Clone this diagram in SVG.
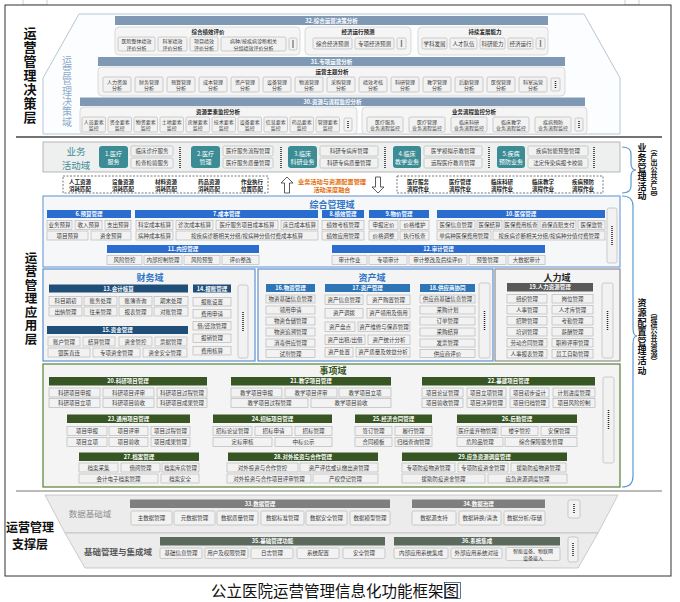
<svg xmlns="http://www.w3.org/2000/svg" width="680" height="602" viewBox="0 0 680 602">
<style>
text{font-family:"Noto Sans CJK SC","Noto Sans",sans-serif}
.t{font-size:5.5px;fill:#3a3a3a;text-anchor:middle;dominant-baseline:central}
.t2{font-size:5px;fill:#3a3a3a;text-anchor:middle;dominant-baseline:central}
.ht{font-size:5.5px;fill:#fff;font-weight:bold;text-anchor:middle;dominant-baseline:central}
.gt{font-size:5.5px;fill:#222;font-weight:bold;text-anchor:middle;dominant-baseline:central}
.lt{font-size:6px;fill:#fff;text-anchor:middle;dominant-baseline:central}
.bt{font-size:5.5px;fill:#222;font-weight:bold;text-anchor:middle;dominant-baseline:central}
.b{fill:#f2f2f2;stroke:#b0b0b0;stroke-width:.6}
.g{fill:#f5f5f5;stroke:#cdcdcd;stroke-width:.7}
.sd{fill:#f2f2f2;stroke:#b0b0b0;stroke-width:.6}
.dots{stroke:#222;stroke-width:1.5;stroke-dasharray:1 1;fill:none}
.dh{fill:#7f99b5}.hb{fill:#2a6dcf}.hn{fill:#1f4e79}.hm{fill:#2e75b6}.hg{fill:#375623}.hk{fill:#595959}.hd{fill:#7f7f7f}.hs{fill:#5b6a5d}.tl{fill:#3b8c94}
.vl{font-weight:bold;fill:#111;writing-mode:vertical-rl}
.br{fill:none;stroke:#5b9bd5;stroke-width:1.2}
.dt{font-size:9px;font-weight:bold;fill:#2f75c8;text-anchor:middle;dominant-baseline:central}
</style>
<rect x="0" y="0" width="680" height="602" fill="#fff"/>
<rect x="23" y="-1" width="24" height="6" fill="none" stroke="#bbb" stroke-width=".7"/>
<rect x="625" y="-1" width="14" height="6" fill="none" stroke="#bbb" stroke-width=".7"/>
<rect x="5" y="5" width="666" height="571" fill="#fff" stroke="#333" stroke-width="1"/>
<line x1="16" y1="137" x2="662" y2="137" stroke="#444" stroke-width="1.3"/>
<line x1="16" y1="491" x2="662" y2="491" stroke="#777" stroke-width="1"/>

<!-- layer labels -->
<g id="layer-labels">
<text class="vl" x="30" y="26.5" font-size="13" letter-spacing="1">运营管理决策层</text>
<text class="vl" x="31" y="251.5" font-size="12.5" letter-spacing="1">运营管理应用层</text>
<text x="30" y="526.5" font-size="12" font-weight="bold" fill="#111" text-anchor="middle" dominant-baseline="central">运营管理</text>
<text x="30" y="543" font-size="12" font-weight="bold" fill="#111" text-anchor="middle" dominant-baseline="central">支撑层</text>
</g>

<!-- decision layer -->
<g id="decision-domain">
<polygon points="79,14 584,14 620,78 620,134 43,134 43,78" fill="#fcfdfe" stroke="#b5c6d8" stroke-width="1"/>
<text x="67" y="55" font-size="10" fill="#8eaacb" letter-spacing=".3" style="writing-mode:vertical-rl">运营管理决策域</text>
</g>
<g id="n32">
<rect class="dh" x="115" y="16" width="433" height="9"/>
<text class="ht" x="331.5" y="20.5">32.综合运营决策分析</text>
<rect class="g" x="115" y="27" width="185" height="28" rx="4"/>
<text class="gt" x="208" y="32">综合绩效评价</text>
<rect class="b" x="118" y="37" width="37" height="14" rx="1.5"/><text class="t2" x="136.5" y="40.8">医院整体绩效</text><text class="t2" x="136.5" y="47.2">评价分析</text>
<rect class="b" x="158" y="37" width="29" height="14" rx="1.5"/><text class="t2" x="172.5" y="40.8">科室绩效</text><text class="t2" x="172.5" y="47.2">评价分析</text>
<rect class="b" x="190" y="37" width="28" height="14" rx="1.5"/><text class="t2" x="204" y="40.8">项目绩效</text><text class="t2" x="204" y="47.2">评价分析</text>
<rect class="b" x="221" y="37" width="65" height="14" rx="1.5"/><text class="t2" x="253.5" y="40.8">病种/按疾病诊断相关</text><text class="t2" x="253.5" y="47.2">分组绩效评价分析</text>
<rect class="sd" x="289" y="38" width="8" height="12" rx="1.5"/><line class="dots" x1="293" y1="40.5" x2="293" y2="47.5"/>
<rect class="g" x="305" y="27" width="106" height="28" rx="4"/>
<text class="gt" x="358" y="32">经济运行预测</text>
<rect class="b" x="313" y="38" width="39" height="11" rx="1.5"/><text class="t" x="332.5" y="43.5">综合经济预测</text>
<rect class="b" x="355" y="38" width="39" height="11" rx="1.5"/><text class="t" x="374.5" y="43.5">专项经济预测</text>
<rect class="sd" x="397" y="38" width="9" height="11" rx="1.5"/><line class="dots" x1="401.5" y1="40.5" x2="401.5" y2="47"/>
<rect class="g" x="418" y="27" width="130" height="28" rx="4"/>
<text class="gt" x="485" y="32">持续发展能力</text>
<rect class="b" x="422" y="38" width="25" height="11" rx="1.5"/><text class="t" x="434.5" y="43.5">学科发展</text>
<rect class="b" x="450" y="38" width="27" height="11" rx="1.5"/><text class="t" x="463.5" y="43.5">人才队伍</text>
<rect class="b" x="480" y="38" width="25" height="11" rx="1.5"/><text class="t" x="492.5" y="43.5">科研能力</text>
<rect class="b" x="508" y="38" width="25" height="11" rx="1.5"/><text class="t" x="520.5" y="43.5">经济运行</text>
<rect class="sd" x="536" y="38" width="9" height="11" rx="1.5"/><line class="dots" x1="540.5" y1="40.5" x2="540.5" y2="47"/>
</g>
<g id="n31">
<rect class="dh" x="98" y="57" width="467" height="9"/>
<text class="ht" x="331.5" y="61.5">31.专项运营分析</text>
<rect class="g" x="98" y="67" width="467" height="29" rx="4"/>
<text class="gt" x="332" y="72">运营主题分析</text>
<rect class="b" x="103" y="77" width="28" height="15" rx="1.5"/><text class="t2" x="117" y="81.3">人力资源</text><text class="t2" x="117" y="87.8">分析</text>
<rect class="b" x="135" y="77" width="28" height="15" rx="1.5"/><text class="t2" x="149" y="81.3">财务管理</text><text class="t2" x="149" y="87.8">分析</text>
<rect class="b" x="167" y="77" width="28" height="15" rx="1.5"/><text class="t2" x="181" y="81.3">预算管理</text><text class="t2" x="181" y="87.8">分析</text>
<rect class="b" x="199" y="77" width="28" height="15" rx="1.5"/><text class="t2" x="213" y="81.3">成本管理</text><text class="t2" x="213" y="87.8">分析</text>
<rect class="b" x="231" y="77" width="28" height="15" rx="1.5"/><text class="t2" x="245" y="81.3">资产管理</text><text class="t2" x="245" y="87.8">分析</text>
<rect class="b" x="263" y="77" width="28" height="15" rx="1.5"/><text class="t2" x="277" y="81.3">设备管理</text><text class="t2" x="277" y="87.8">分析</text>
<rect class="b" x="295" y="77" width="28" height="15" rx="1.5"/><text class="t2" x="309" y="81.3">物流管理</text><text class="t2" x="309" y="87.8">分析</text>
<rect class="b" x="327" y="77" width="28" height="15" rx="1.5"/><text class="t2" x="341" y="81.3">采购管理</text><text class="t2" x="341" y="87.8">分析</text>
<rect class="b" x="359" y="77" width="28" height="15" rx="1.5"/><text class="t2" x="373" y="81.3">绩效考核</text><text class="t2" x="373" y="87.8">分析</text>
<rect class="b" x="391" y="77" width="28" height="15" rx="1.5"/><text class="t2" x="405" y="81.3">科研管理</text><text class="t2" x="405" y="87.8">分析</text>
<rect class="b" x="423" y="77" width="28" height="15" rx="1.5"/><text class="t2" x="437" y="81.3">教学管理</text><text class="t2" x="437" y="87.8">分析</text>
<rect class="b" x="455" y="77" width="28" height="15" rx="1.5"/><text class="t2" x="469" y="81.3">后勤管理</text><text class="t2" x="469" y="87.8">分析</text>
<rect class="b" x="487" y="77" width="28" height="15" rx="1.5"/><text class="t2" x="501" y="81.3">医保管理</text><text class="t2" x="501" y="87.8">分析</text>
<rect class="b" x="519" y="77" width="28" height="15" rx="1.5"/><text class="t2" x="533" y="81.3">科室运营</text><text class="t2" x="533" y="87.8">分析</text>
<rect class="sd" x="551" y="78" width="9" height="13" rx="1.5"/><line class="dots" x1="555.5" y1="81" x2="555.5" y2="88"/>
</g>
<g id="n30">
<rect class="dh" x="80" y="97.5" width="505" height="8.5"/>
<text class="ht" x="332.5" y="101.75">30.资源与流程监控分析</text>
<rect class="g" x="80" y="107" width="277" height="27" rx="4"/>
<text class="gt" x="218" y="112">资源要素监控分析</text>
<rect class="b" x="82" y="117" width="23.5" height="15" rx="1.5"/><text class="t2" x="93.75" y="121.3">人员要素</text><text class="t2" x="93.75" y="127.8">监控</text>
<rect class="b" x="108" y="117" width="23.5" height="15" rx="1.5"/><text class="t2" x="119.75" y="121.3">资金要素</text><text class="t2" x="119.75" y="127.8">监控</text>
<rect class="b" x="134" y="117" width="23.5" height="15" rx="1.5"/><text class="t2" x="145.75" y="121.3">物资要素</text><text class="t2" x="145.75" y="127.8">监控</text>
<rect class="b" x="160" y="117" width="23.5" height="15" rx="1.5"/><text class="t2" x="171.75" y="121.3">土地要素</text><text class="t2" x="171.75" y="127.8">监控</text>
<rect class="b" x="186" y="117" width="23.5" height="15" rx="1.5"/><text class="t2" x="197.75" y="121.3">房屋要素</text><text class="t2" x="197.75" y="127.8">监控</text>
<rect class="b" x="212" y="117" width="23.5" height="15" rx="1.5"/><text class="t2" x="223.75" y="121.3">技术要素</text><text class="t2" x="223.75" y="127.8">监控</text>
<rect class="b" x="238" y="117" width="23.5" height="15" rx="1.5"/><text class="t2" x="249.75" y="121.3">设备要素</text><text class="t2" x="249.75" y="127.8">监控</text>
<rect class="b" x="264" y="117" width="23.5" height="15" rx="1.5"/><text class="t2" x="275.75" y="121.3">信息要素</text><text class="t2" x="275.75" y="127.8">监控</text>
<rect class="b" x="290" y="117" width="23.5" height="15" rx="1.5"/><text class="t2" x="301.75" y="121.3">药品要素</text><text class="t2" x="301.75" y="127.8">监控</text>
<rect class="b" x="316" y="117" width="23.5" height="15" rx="1.5"/><text class="t2" x="327.75" y="121.3">管理要素</text><text class="t2" x="327.75" y="127.8">监控</text>
<rect class="sd" x="344" y="118" width="8" height="13" rx="1.5"/><line class="dots" x1="348" y1="121" x2="348" y2="128"/>
<rect class="g" x="362" y="107" width="225" height="27" rx="4"/>
<text class="gt" x="474" y="112">业务流程监控分析</text>
<rect class="b" x="367" y="117" width="36" height="15" rx="1.5"/><text class="t2" x="385" y="121.3">医疗服务</text><text class="t2" x="385" y="127.8">业务流程监控</text>
<rect class="b" x="409" y="117" width="36" height="15" rx="1.5"/><text class="t2" x="427" y="121.3">医疗管理</text><text class="t2" x="427" y="127.8">业务流程监控</text>
<rect class="b" x="451" y="117" width="36" height="15" rx="1.5"/><text class="t2" x="469" y="121.3">临床科研</text><text class="t2" x="469" y="127.8">业务流程监控</text>
<rect class="b" x="493" y="117" width="36" height="15" rx="1.5"/><text class="t2" x="511" y="121.3">临床教学</text><text class="t2" x="511" y="127.8">业务流程监控</text>
<rect class="b" x="535" y="117" width="36" height="15" rx="1.5"/><text class="t2" x="553" y="121.3">疾病预防</text><text class="t2" x="553" y="127.8">业务流程监控</text>
<rect class="sd" x="575" y="118" width="8" height="13" rx="1.5"/><line class="dots" x1="579" y1="121" x2="579" y2="128"/>
</g>

<!-- business activity domain -->
<g id="business">
<rect x="43" y="142" width="577" height="30" fill="#eef0f0" stroke="#a6a6a6" stroke-width=".8"/>
<text x="76" y="151.3" font-size="9.5" fill="#3b8c94" text-anchor="middle" dominant-baseline="central">业务</text>
<text x="76" y="164.5" font-size="9.5" fill="#3b8c94" text-anchor="middle" dominant-baseline="central">活动域</text>
<rect class="tl" x="99" y="146" width="29" height="22" rx="3"/><text class="lt" x="113.5" y="153">1.医疗</text><text class="lt" x="113.5" y="161">服务</text>
<rect class="b" x="131" y="146" width="42" height="10" rx="1.5"/><text class="t" x="152" y="151">临床诊疗服务</text>
<rect class="b" x="131" y="158" width="42" height="10" rx="1.5"/><text class="t" x="152" y="163">检查检验服务</text>
<line class="dots" x1="180" y1="147" x2="180" y2="168"/>
<rect class="tl" x="191" y="146" width="29" height="22" rx="3"/><text class="lt" x="205.5" y="153">2.医疗</text><text class="lt" x="205.5" y="161">管理</text>
<rect class="b" x="223" y="146" width="50" height="10" rx="1.5"/><text class="t" x="248" y="151">医疗服务流程管理</text>
<rect class="b" x="223" y="158" width="50" height="10" rx="1.5"/><text class="t" x="248" y="163">医疗服务质量管理</text>
<line class="dots" x1="281" y1="147" x2="281" y2="168"/>
<rect class="tl" x="288" y="146" width="29" height="22" rx="3"/><text class="lt" x="302.5" y="153">3.临床</text><text class="lt" x="302.5" y="161">科研业务</text>
<rect class="b" x="320" y="146" width="58" height="10" rx="1.5"/><text class="t" x="349" y="151">科研专病库管理</text>
<rect class="b" x="320" y="158" width="58" height="10" rx="1.5"/><text class="t" x="349" y="163">科研专病质量管理</text>
<line class="dots" x1="385" y1="147" x2="385" y2="168"/>
<rect class="tl" x="393" y="146" width="28" height="22" rx="3"/><text class="lt" x="407" y="153">4.临床</text><text class="lt" x="407" y="161">教学业务</text>
<rect class="b" x="424" y="146" width="58" height="10" rx="1.5"/><text class="t" x="453" y="151">医学模拟示教管理</text>
<rect class="b" x="424" y="158" width="58" height="10" rx="1.5"/><text class="t" x="453" y="163">远程医疗教育管理</text>
<line class="dots" x1="489" y1="147" x2="489" y2="168"/>
<rect class="tl" x="497" y="146" width="28" height="22" rx="3"/><text class="lt" x="511" y="153">5.疾病</text><text class="lt" x="511" y="161">预防业务</text>
<rect class="b" x="528" y="146" width="60" height="10" rx="1.5"/><text class="t" x="558" y="151">疾病智能预警管理</text>
<rect class="b" x="528" y="158" width="60" height="10" rx="1.5"/><text class="t" x="558" y="163">法定传染病报卡校验</text>
<line class="dots" x1="594" y1="147" x2="594" y2="168"/>
</g>

<g id="fusion">
<rect x="63" y="176" width="205" height="17" fill="#fff" stroke="#555" stroke-width=".8" stroke-dasharray="2 1.5"/>
<text class="bt" x="80" y="181.5">人工资源</text><text class="bt" x="80" y="188.5">消耗匹配</text>
<text class="bt" x="123" y="181.5">设备资源</text><text class="bt" x="123" y="188.5">消耗匹配</text>
<text class="bt" x="166" y="181.5">材料资源</text><text class="bt" x="166" y="188.5">消耗匹配</text>
<text class="bt" x="209" y="181.5">药品资源</text><text class="bt" x="209" y="188.5">消耗匹配</text>
<text class="bt" x="252" y="181.5">作业执行</text><text class="bt" x="252" y="188.5">位置匹配</text>
<polygon points="287,177 293,183 289.5,183 289.5,193 284.5,193 284.5,183 281,183" fill="#fff" stroke="#333" stroke-width=".8"/>
<text x="332" y="181.5" font-size="6.2" font-weight="bold" fill="#e46c0a" text-anchor="middle" dominant-baseline="central">业务活动与资源配置管理</text>
<text x="332" y="189" font-size="6.2" font-weight="bold" fill="#e46c0a" text-anchor="middle" dominant-baseline="central">活动深度融合</text>
<polygon points="378,193 384,187 380.5,187 380.5,177 375.5,177 375.5,187 372,187" fill="#fff" stroke="#333" stroke-width=".8"/>
<rect x="397" y="176" width="206" height="17" fill="#fff" stroke="#555" stroke-width=".8" stroke-dasharray="2 1.5"/>
<text class="bt" x="418" y="181.5">医疗服务</text><text class="bt" x="418" y="188.5">流程作业</text>
<text class="bt" x="460" y="181.5">医疗管理</text><text class="bt" x="460" y="188.5">流程作业</text>
<text class="bt" x="502" y="181.5">临床科研</text><text class="bt" x="502" y="188.5">流程作业</text>
<text class="bt" x="543" y="181.5">临床教学</text><text class="bt" x="543" y="188.5">流程作业</text>
<text class="bt" x="583" y="181.5">疾病预防</text><text class="bt" x="583" y="188.5">流程作业</text>
</g>

<g id="connectors">
<path class="br" d="M622,147 Q631,147 631,154 L631,163 Q631,170 636,170 Q631,170 631,177 L631,186 Q631,193 622,193"/>
<path class="br" d="M622,196 Q633,196 633,206 L633,328 Q633,336 637,336 Q633,336 633,344 L633,476 Q633,487 622,487"/>
</g>
<g id="side-labels">
<text class="vl" x="642" y="143.5" font-size="9" letter-spacing=".6">业务管理活动</text>
<text class="vl" x="654" y="145" font-size="7">（产出公共产品）</text>
<text class="vl" x="642" y="298.5" font-size="9" letter-spacing=".6">资源配置管理活动</text>
<text class="vl" x="654" y="309" font-size="7">（提供公共资源）</text>
</g>

<!-- comprehensive management domain -->
<g id="integrated">
<rect x="43" y="196" width="577" height="71" fill="#f6f7f9" stroke="#5b8fd0" stroke-width="1"/>
<text class="dt" x="332" y="204" font-size="9.5">综合管理域</text>
</g>
<g id="n6">
<rect class="hb" x="47" y="210" width="84" height="8"/><text class="ht" x="89" y="214">6.预算管理</text>
<rect class="b" x="47" y="220.5" width="25" height="9"/><text class="t" x="59.5" y="225">业务预算</text>
<rect class="b" x="75" y="220.5" width="27" height="9"/><text class="t" x="88.5" y="225">收入预算</text>
<rect class="b" x="105" y="220.5" width="26" height="9"/><text class="t" x="118" y="225">支出预算</text>
<rect class="b" x="47" y="231" width="41" height="9"/><text class="t" x="67.5" y="235.5">项目预算</text>
<rect class="b" x="91" y="231" width="40" height="9"/><text class="t" x="111" y="235.5">资金预算</text>
</g>
<g id="n7">
<rect class="hb" x="135" y="210" width="183" height="8"/><text class="ht" x="226.5" y="214">7.成本管理</text>
<rect class="b" x="136" y="220.5" width="37" height="9"/><text class="t" x="154.5" y="225">科室成本核算</text>
<rect class="b" x="176" y="220.5" width="37" height="9"/><text class="t" x="194.5" y="225">诊次成本核算</text>
<rect class="b" x="216" y="220.5" width="62" height="9"/><text class="t" x="247" y="225">医疗服务项目成本核算</text>
<rect class="b" x="281" y="220.5" width="37" height="9"/><text class="t" x="299.5" y="225">床日成本核算</text>
<rect class="b" x="136" y="231" width="37" height="9"/><text class="t" x="154.5" y="235.5">病种成本核算</text>
<rect class="b" x="176" y="231" width="142" height="9"/><text class="t" x="247" y="235.5">按疾病诊断相关分组/按病种分值付费成本核算</text>
</g>
<g id="n8">
<rect class="hb" x="322" y="210" width="42" height="8"/><text class="ht" x="343" y="214">8.绩效管理</text>
<rect class="b" x="322" y="220.5" width="42" height="9"/><text class="t" x="343" y="225">绩效考核管理</text>
<rect class="b" x="322" y="231" width="42" height="9"/><text class="t" x="343" y="235.5">绩效应用管理</text>
</g>
<g id="n9">
<rect class="hb" x="369" y="210" width="60" height="8"/><text class="ht" x="399" y="214">9.物价管理</text>
<rect class="b" x="369" y="220.5" width="29" height="9"/><text class="t" x="383.5" y="225">申报定价</text>
<rect class="b" x="400" y="220.5" width="29" height="9"/><text class="t" x="414.5" y="225">价格维护</text>
<rect class="b" x="369" y="231" width="29" height="9"/><text class="t" x="383.5" y="235.5">价格调整</text>
<rect class="b" x="400" y="231" width="29" height="9"/><text class="t" x="414.5" y="235.5">执行核查</text>
</g>
<g id="n10">
<rect class="hb" x="437" y="210" width="168" height="8"/><text class="ht" x="521" y="214">10.医保管理</text>
<rect class="b" x="437" y="220.5" width="38" height="9"/><text class="t" x="456" y="225">医保信息管理</text>
<rect class="b" x="477" y="220.5" width="25" height="9"/><text class="t" x="489.5" y="225">医保结算</text>
<rect class="b" x="504" y="220.5" width="34" height="9"/><text class="t" x="521" y="225">医保费用核查</text>
<rect class="b" x="540" y="220.5" width="36" height="9"/><text class="t" x="558" y="225">商保直赔支付</text>
<rect class="b" x="578" y="220.5" width="27" height="9"/><text class="t" x="591.5" y="225">医保监管</text>
<rect class="b" x="437" y="231" width="54" height="9"/><text class="t" x="464" y="235.5">单病种医保费用管理</text>
<rect class="b" x="493" y="231" width="112" height="9"/><text class="t" x="549" y="235.5">按疾病诊断相关分组/按病种分值付费管理</text>
<rect class="sd" x="607" y="208" width="10" height="55" rx="2"/><line class="dots" x1="612" y1="226" x2="612" y2="245"/>
</g>
<g id="n11">
<rect class="hb" x="107" y="245" width="152" height="8"/><text class="ht" x="183" y="249">11.内控管理</text>
<rect class="b" x="107" y="255.5" width="35" height="9"/><text class="t" x="124.5" y="260">风险管控</text>
<rect class="b" x="144" y="255.5" width="38" height="9"/><text class="t" x="163" y="260">内部控制管理</text>
<rect class="b" x="184" y="255.5" width="36" height="9"/><text class="t" x="202" y="260">风险预警</text>
<rect class="b" x="222" y="255.5" width="37" height="9"/><text class="t" x="240.5" y="260">评价整改</text>
</g>
<g id="n12">
<rect class="hb" x="332" y="245" width="213" height="8"/><text class="ht" x="438.5" y="249">12.审计管理</text>
<rect class="b" x="332" y="255.5" width="35" height="9"/><text class="t" x="349.5" y="260">审计作业</text>
<rect class="b" x="369" y="255.5" width="38" height="9"/><text class="t" x="388" y="260">专项审计</text>
<rect class="b" x="409" y="255.5" width="58" height="9"/><text class="t" x="438" y="260">审计整改及后续评价</text>
<rect class="b" x="469" y="255.5" width="37" height="9"/><text class="t" x="487.5" y="260">预警管理</text>
<rect class="b" x="508" y="255.5" width="37" height="9"/><text class="t" x="526.5" y="260">大数据审计</text>
</g>

<!-- finance domain -->
<g id="finance">
<rect x="43" y="269" width="212" height="92" fill="#f4f4f4" stroke="#5b8fd0" stroke-width="1.2"/>
<text class="dt" x="150" y="277">财务域</text>
<rect class="hn" x="49" y="284.5" width="139" height="8"/><text class="ht" x="118.5" y="288.5">13.会计核算</text>
<rect class="b" x="49" y="296.5" width="33" height="9"/><text class="t" x="65.5" y="301">科目期初</text>
<rect class="b" x="84" y="296.5" width="33" height="9"/><text class="t" x="100.5" y="301">账务处理</text>
<rect class="b" x="119" y="296.5" width="33" height="9"/><text class="t" x="135.5" y="301">账簿查询</text>
<rect class="b" x="154" y="296.5" width="34" height="9"/><text class="t" x="171" y="301">期末处理</text>
<rect class="b" x="49" y="307" width="33" height="9"/><text class="t" x="65.5" y="311.5">出纳管理</text>
<rect class="b" x="84" y="307" width="33" height="9"/><text class="t" x="100.5" y="311.5">往来管理</text>
<rect class="b" x="119" y="307" width="33" height="9"/><text class="t" x="135.5" y="311.5">报表管理</text>
<rect class="b" x="154" y="307" width="34" height="9"/><text class="t" x="171" y="311.5">对账管理</text>
<rect class="hn" x="193" y="284.5" width="38" height="8"/><text class="ht" x="212" y="288.5">14.报账管理</text>
<rect class="b" x="193" y="297.5" width="38" height="8.5"/><text class="t" x="212" y="301.75">报账设置</text>
<rect class="b" x="193" y="309.5" width="38" height="8.5"/><text class="t" x="212" y="313.75">费用申请</text>
<rect class="b" x="193" y="321.5" width="38" height="8.5"/><text class="t" x="212" y="325.75">借/还款管理</text>
<rect class="b" x="193" y="334" width="38" height="8.5"/><text class="t" x="212" y="338.25">报销管理</text>
<rect class="b" x="193" y="346.5" width="38" height="8.5"/><text class="t" x="212" y="350.75">费用核算</text>
<rect class="hn" x="47" y="326" width="141" height="8"/><text class="ht" x="117.5" y="330">15.资金管理</text>
<rect class="b" x="48" y="337" width="32" height="9"/><text class="t" x="64" y="341.5">账户管理</text>
<rect class="b" x="83" y="337" width="32" height="9"/><text class="t" x="99" y="341.5">结算管理</text>
<rect class="b" x="119" y="337" width="33" height="9"/><text class="t" x="135.5" y="341.5">资金管控</text>
<rect class="b" x="155" y="337" width="32" height="9"/><text class="t" x="171" y="341.5">票据管理</text>
<rect class="b" x="48" y="348" width="42" height="9"/><text class="t" x="69" y="352.5">银医直连</text>
<rect class="b" x="93" y="348" width="47" height="9"/><text class="t" x="116.5" y="352.5">专项资金管理</text>
<rect class="b" x="143" y="348" width="44" height="9"/><text class="t" x="165" y="352.5">资金安全管理</text>
<rect class="sd" x="238" y="285" width="10" height="73" rx="2"/><line class="dots" x1="243" y1="312" x2="243" y2="331"/>
</g>

<!-- asset domain -->
<g id="asset">
<rect x="258" y="269" width="235" height="92" fill="#f4f4f4" stroke="#5b8fd0" stroke-width="1.2"/>
<text class="dt" x="372" y="277">资产域</text>
<rect class="hm" x="266" y="284" width="49" height="8"/><text class="ht" x="290.5" y="288">16.物资管理</text>
<rect class="b" x="266" y="295" width="49" height="8"/><text class="t" x="290.5" y="299">物资基础信息管理</text>
<rect class="b" x="266" y="306" width="49" height="8"/><text class="t" x="290.5" y="310">领用申请</text>
<rect class="b" x="266" y="317" width="49" height="8"/><text class="t" x="290.5" y="321">物资仓储管理</text>
<rect class="b" x="266" y="328" width="49" height="8"/><text class="t" x="290.5" y="332">物资追溯管理</text>
<rect class="b" x="266" y="339" width="49" height="8"/><text class="t" x="290.5" y="343">消毒供应管理</text>
<rect class="b" x="266" y="349.5" width="49" height="8"/><text class="t" x="290.5" y="353.5">试剂管理</text>
<rect class="hm" x="325" y="284" width="85" height="8"/><text class="ht" x="367.5" y="288">17.资产管理</text>
<rect class="b" x="325" y="295" width="38" height="9.5"/><text class="t" x="344" y="299.75">资产信息管理</text>
<rect class="b" x="367" y="295" width="43" height="9.5"/><text class="t" x="388.5" y="299.75">资产购置管理</text>
<rect class="b" x="325" y="308.5" width="38" height="9.5"/><text class="t" x="344" y="313.25">资产调拨</text>
<rect class="b" x="367" y="308.5" width="43" height="9.5"/><text class="t" x="388.5" y="313.25">资产领用及借用</text>
<rect class="b" x="325" y="322" width="30" height="9.5"/><text class="t" x="340" y="326.75">资产盘点</text>
<rect class="b" x="358" y="322" width="52" height="9.5"/><text class="t" x="384" y="326.75">资产维修与保养管理</text>
<rect class="b" x="325" y="335" width="40" height="9.5"/><text class="t" x="345" y="339.75">资产出租/出借</text>
<rect class="b" x="368" y="335" width="42" height="9.5"/><text class="t" x="389" y="339.75">资产统计分析</text>
<rect class="b" x="325" y="347.5" width="28" height="9.5"/><text class="t" x="339" y="352.25">资产处置</text>
<rect class="b" x="356" y="347.5" width="54" height="9.5"/><text class="t" x="383" y="352.25">资产质量及效益分析</text>
<rect class="hm" x="420" y="284" width="55" height="8"/><text class="ht" x="447.5" y="288">18.供应商协同</text>
<rect class="b" x="420" y="295" width="55" height="8"/><text class="t" x="447.5" y="299">供应商基础信息管理</text>
<rect class="b" x="420" y="306" width="55" height="8"/><text class="t" x="447.5" y="310">采购计划</text>
<rect class="b" x="420" y="317" width="55" height="8"/><text class="t" x="447.5" y="321">订单管理</text>
<rect class="b" x="420" y="328" width="55" height="8"/><text class="t" x="447.5" y="332">采购结算</text>
<rect class="b" x="420" y="339" width="55" height="8"/><text class="t" x="447.5" y="343">发票管理</text>
<rect class="b" x="420" y="349.5" width="55" height="8"/><text class="t" x="447.5" y="353.5">供应商评价</text>
<rect class="sd" x="479" y="283" width="11" height="75" rx="2"/><line class="dots" x1="484.5" y1="311" x2="484.5" y2="330"/>
</g>

<!-- HR domain -->
<g id="hr">
<rect x="495" y="269" width="125" height="92" fill="#f4f4f4" stroke="#8c8c8c" stroke-width="1.2"/>
<text x="557" y="277" font-size="9" font-weight="bold" fill="#262626" text-anchor="middle" dominant-baseline="central">人力域</text>
<rect class="hk" x="507" y="283" width="86" height="8.5"/><text class="ht" x="550" y="287.25">19.人力资源管理</text>
<rect class="b" x="507" y="294.5" width="40" height="8.5"/><text class="t" x="527" y="298.75">组织管理</text>
<rect class="b" x="552" y="294.5" width="41" height="8.5"/><text class="t" x="572.5" y="298.75">岗位管理</text>
<rect class="b" x="507" y="305.5" width="40" height="8.5"/><text class="t" x="527" y="309.75">人事管理</text>
<rect class="b" x="552" y="305.5" width="41" height="8.5"/><text class="t" x="572.5" y="309.75">人才库管理</text>
<rect class="b" x="507" y="316.5" width="40" height="8.5"/><text class="t" x="527" y="320.75">招聘管理</text>
<rect class="b" x="552" y="316.5" width="41" height="8.5"/><text class="t" x="572.5" y="320.75">考勤管理</text>
<rect class="b" x="507" y="327.5" width="40" height="8.5"/><text class="t" x="527" y="331.75">培训管理</text>
<rect class="b" x="552" y="327.5" width="41" height="8.5"/><text class="t" x="572.5" y="331.75">薪酬管理</text>
<rect class="b" x="507" y="338.5" width="40" height="8.5"/><text class="t" x="527" y="342.75">劳动合同管理</text>
<rect class="b" x="552" y="338.5" width="41" height="8.5"/><text class="t" x="572.5" y="342.75">职称评审管理</text>
<rect class="b" x="507" y="349.5" width="40" height="8.5"/><text class="t" x="527" y="353.75">人事报表管理</text>
<rect class="b" x="552" y="349.5" width="41" height="8.5"/><text class="t" x="572.5" y="353.75">员工自助管理</text>
<rect class="sd" x="602" y="283" width="11" height="75" rx="2"/><line class="dots" x1="607.5" y1="311" x2="607.5" y2="330"/>
</g>

<!-- matter domain -->
<g id="matter">
<rect x="43" y="364" width="577" height="123" fill="#f4f4f4" stroke="#548235" stroke-width="1.2"/>
<text x="333" y="370" font-size="9" font-weight="bold" fill="#375623" text-anchor="middle" dominant-baseline="central">事项域</text>
<rect class="sd" x="603" y="377" width="11" height="86" rx="2"/><line class="dots" x1="608.5" y1="410" x2="608.5" y2="430"/>
</g>
<g id="n20">
<rect class="hg" x="49" y="377" width="158" height="8.5"/><text class="ht" x="128" y="381.25">20.科研项目管理</text>
<rect class="b" x="49" y="388" width="51" height="9"/><text class="t" x="74.5" y="392.5">科研项目申报</text>
<rect class="b" x="103" y="388" width="51" height="9"/><text class="t" x="128.5" y="392.5">科研项目评审</text>
<rect class="b" x="157" y="388" width="50" height="9"/><text class="t" x="182" y="392.5">科研项目过程管理</text>
<rect class="b" x="49" y="398.5" width="51" height="9"/><text class="t" x="74.5" y="403">科研项目立项</text>
<rect class="b" x="103" y="398.5" width="51" height="9"/><text class="t" x="128.5" y="403">科研项目验收</text>
<rect class="b" x="157" y="398.5" width="50" height="9"/><text class="t" x="182" y="403">科研项目成果管理</text>
</g>
<g id="n21">
<rect class="hg" x="231" y="377" width="160" height="8.5"/><text class="ht" x="311" y="381.25">21.教学项目管理</text>
<rect class="b" x="231" y="388" width="51" height="9"/><text class="t" x="256.5" y="392.5">教学项目申报</text>
<rect class="b" x="285" y="388" width="52" height="9"/><text class="t" x="311" y="392.5">教学项目评审</text>
<rect class="b" x="339" y="388" width="52" height="9"/><text class="t" x="365" y="392.5">教学项目立项</text>
<rect class="b" x="231" y="398.5" width="77" height="9"/><text class="t" x="269.5" y="403">教学项目过程管理</text>
<rect class="b" x="311" y="398.5" width="80" height="9"/><text class="t" x="351" y="403">教学项目验收</text>
</g>
<g id="n22">
<rect class="hg" x="422" y="377" width="173" height="8.5"/><text class="ht" x="508.5" y="381.25">22.基建项目管理</text>
<rect class="b" x="422" y="388" width="41" height="9"/><text class="t" x="442.5" y="392.5">项目论证管理</text>
<rect class="b" x="467" y="388" width="39" height="9"/><text class="t" x="486.5" y="392.5">项目立项管理</text>
<rect class="b" x="510" y="388" width="39" height="9"/><text class="t" x="529.5" y="392.5">项目初步设计</text>
<rect class="b" x="553" y="388" width="42" height="9"/><text class="t" x="574" y="392.5">计划进度管理</text>
<rect class="b" x="422" y="398.5" width="41" height="9"/><text class="t" x="442.5" y="403">项目验收管理</text>
<rect class="b" x="467" y="398.5" width="39" height="9"/><text class="t" x="486.5" y="403">项目决算管理</text>
<rect class="b" x="510" y="398.5" width="39" height="9"/><text class="t" x="529.5" y="403">项目归档管理</text>
<rect class="b" x="553" y="398.5" width="42" height="9"/><text class="t" x="574" y="403">项目风险控制</text>
</g>
<g id="n23">
<rect class="hg" x="67" y="414.5" width="123" height="8.5"/><text class="ht" x="128.5" y="418.75">23.通用项目管理</text>
<rect class="b" x="67" y="426.5" width="40" height="9"/><text class="t" x="87" y="431">项目申报</text>
<rect class="b" x="109" y="426.5" width="39" height="9"/><text class="t" x="128.5" y="431">项目评审</text>
<rect class="b" x="151" y="426.5" width="39" height="9"/><text class="t" x="170.5" y="431">项目过程管理</text>
<rect class="b" x="67" y="437.5" width="40" height="9"/><text class="t" x="87" y="442">项目立项</text>
<rect class="b" x="109" y="437.5" width="39" height="9"/><text class="t" x="128.5" y="442">项目验收</text>
<rect class="b" x="151" y="437.5" width="39" height="9"/><text class="t" x="170.5" y="442">项目成果管理</text>
</g>
<g id="n24">
<rect class="hg" x="213" y="414.5" width="119" height="8.5"/><text class="ht" x="272.5" y="418.75">24.招标项目管理</text>
<rect class="b" x="213" y="426.5" width="39" height="9"/><text class="t" x="232.5" y="431">招标论证管理</text>
<rect class="b" x="255" y="426.5" width="37" height="9"/><text class="t" x="273.5" y="431">招标申请</text>
<rect class="b" x="295" y="426.5" width="37" height="9"/><text class="t" x="313.5" y="431">招标管理</text>
<rect class="b" x="213" y="437.5" width="59" height="9"/><text class="t" x="242.5" y="442">定标审核</text>
<rect class="b" x="275" y="437.5" width="57" height="9"/><text class="t" x="303.5" y="442">中标公示</text>
</g>
<g id="n25">
<rect class="hg" x="355" y="414.5" width="77" height="8.5"/><text class="ht" x="393.5" y="418.75">25.经济合同管理</text>
<rect class="b" x="355" y="426.5" width="37" height="9"/><text class="t" x="373.5" y="431">签订管理</text>
<rect class="b" x="395" y="426.5" width="37" height="9"/><text class="t" x="413.5" y="431">履行管理</text>
<rect class="b" x="355" y="437.5" width="37" height="9"/><text class="t" x="373.5" y="442">合同模板</text>
<rect class="b" x="395" y="437.5" width="37" height="9"/><text class="t" x="413.5" y="442">归档查询管理</text>
</g>
<g id="n26">
<rect class="hg" x="457" y="414.5" width="120" height="8.5"/><text class="ht" x="517" y="418.75">26.后勤管理</text>
<rect class="b" x="457" y="426.5" width="41" height="9"/><text class="t" x="477.5" y="431">医疗废弃物管理</text>
<rect class="b" x="501" y="426.5" width="37" height="9"/><text class="t" x="519.5" y="431">楼宇管控</text>
<rect class="b" x="541" y="426.5" width="36" height="9"/><text class="t" x="559" y="431">安保管理</text>
<rect class="b" x="457" y="437.5" width="46" height="9"/><text class="t" x="480" y="442">危险品管理</text>
<rect class="b" x="505" y="437.5" width="72" height="9"/><text class="t" x="541" y="442">综合保障服务管理</text>
</g>
<g id="n27">
<rect class="hg" x="79" y="452.5" width="120" height="8.5"/><text class="ht" x="139" y="456.75">27.档案管理</text>
<rect class="b" x="79" y="463" width="39" height="9"/><text class="t" x="98.5" y="467.5">档案采集</text>
<rect class="b" x="121" y="463" width="39" height="9"/><text class="t" x="140.5" y="467.5">借阅管理</text>
<rect class="b" x="162" y="463" width="37" height="9"/><text class="t" x="180.5" y="467.5">档案库房管理</text>
<rect class="b" x="79" y="474" width="79" height="9"/><text class="t" x="118.5" y="478.5">会计电子档案管理</text>
<rect class="b" x="161" y="474" width="38" height="9"/><text class="t" x="180" y="478.5">档案安全</text>
</g>
<g id="n28">
<rect class="hg" x="228" y="452.5" width="150" height="8.5"/><text class="ht" x="303" y="456.75">28.对外投资与合作管理</text>
<rect class="b" x="227" y="463" width="71" height="9"/><text class="t" x="262.5" y="467.5">对外投资与合作管控</text>
<rect class="b" x="300" y="463" width="78" height="9"/><text class="t" x="339" y="467.5">资产评估或认缴出资管理</text>
<rect class="b" x="227" y="474" width="84" height="9"/><text class="t" x="269" y="478.5">对外投资与合作项目评审管理</text>
<rect class="b" x="313" y="474" width="65" height="9"/><text class="t" x="345.5" y="478.5">产权登记管理</text>
</g>
<g id="n29">
<rect class="hg" x="402" y="452.5" width="165" height="8.5"/><text class="ht" x="484.5" y="456.75">29.应急资源调度管理</text>
<rect class="b" x="402" y="463" width="53" height="9"/><text class="t" x="428.5" y="467.5">专项防疫物资管理</text>
<rect class="b" x="458" y="463" width="50" height="9"/><text class="t" x="483" y="467.5">专项防疫资金管理</text>
<rect class="b" x="511" y="463" width="55" height="9"/><text class="t" x="538.5" y="467.5">援助防疫物资管理</text>
<rect class="b" x="402" y="474" width="83" height="9"/><text class="t" x="443.5" y="478.5">援助防疫资金管理</text>
<rect class="b" x="488" y="474" width="79" height="9"/><text class="t" x="527.5" y="478.5">应急资源调度管理</text>
</g>

<!-- support layer -->
<g id="data-domain">
<polygon points="45,495 618,495 598,533 65,533" fill="#ececec" stroke="#bfbfbf" stroke-width=".8"/>
<text x="90" y="513" font-size="8.5" fill="#8c8c8c" text-anchor="middle" dominant-baseline="central">数据基础域</text>
</g>
<g id="n33">
<rect class="hd" x="130" y="499.5" width="260" height="8.5"/><text class="ht" x="260" y="503.75">33.数据管理</text>
<rect class="b" x="131" y="511" width="41" height="14" rx="1.5"/><text class="t" x="151.5" y="518">主数据管理</text>
<rect class="b" x="174" y="511" width="41" height="14" rx="1.5"/><text class="t" x="194.5" y="518">元数据管理</text>
<rect class="b" x="217" y="511" width="41" height="14" rx="1.5"/><text class="t" x="237.5" y="518">数据质量管理</text>
<rect class="b" x="261" y="511" width="43" height="14" rx="1.5"/><text class="t" x="282.5" y="518">数据标准管理</text>
<rect class="b" x="306" y="511" width="41" height="14" rx="1.5"/><text class="t" x="326.5" y="518">数据安全管理</text>
<rect class="b" x="350" y="511" width="40" height="14" rx="1.5"/><text class="t" x="370" y="518">数据模型管理</text>
</g>
<g id="n34">
<rect class="hd" x="412" y="499.5" width="133" height="8.5"/><text class="ht" x="478.5" y="503.75">34.数据治理</text>
<rect class="b" x="412" y="511" width="44" height="14" rx="1.5"/><text class="t" x="434" y="518">数据源支持</text>
<rect class="b" x="459" y="511" width="42" height="14" rx="1.5"/><text class="t" x="480" y="518">数据转换/清洗</text>
<rect class="b" x="504" y="511" width="41" height="14" rx="1.5"/><text class="t" x="524.5" y="518">数据分析/存储</text>
<rect class="sd" x="568" y="500" width="12" height="18" rx="2"/><line class="dots" x1="574" y1="504" x2="574" y2="514"/>
</g>
<g id="base-domain">
<polygon points="65,533 598,533 578,568 85,568" fill="#ececec" stroke="#bfbfbf" stroke-width=".8"/>
<text x="118" y="551" font-size="8.5" font-weight="bold" fill="#595959" text-anchor="middle" dominant-baseline="central">基础管理与集成域</text>
</g>
<g id="n35">
<rect class="hs" x="160" y="537" width="225" height="8.5"/><text class="ht" x="272.5" y="541.25">35.基础管理功能</text>
<rect class="b" x="160" y="548" width="42" height="10.5" rx="1.5"/><text class="t" x="181" y="553.25">基础信息管理</text>
<rect class="b" x="205" y="548" width="43" height="10.5" rx="1.5"/><text class="t" x="226.5" y="553.25">用户及权限管理</text>
<rect class="b" x="251" y="548" width="42" height="10.5" rx="1.5"/><text class="t" x="272" y="553.25">日志管理</text>
<rect class="b" x="297" y="548" width="42" height="10.5" rx="1.5"/><text class="t" x="318" y="553.25">系统配置</text>
<rect class="b" x="343" y="548" width="42" height="10.5" rx="1.5"/><text class="t" x="364" y="553.25">安全管理</text>
</g>
<g id="n36">
<rect class="hs" x="394" y="537" width="166" height="8.5"/><text class="ht" x="477" y="541.25">36.系统集成</text>
<rect class="b" x="394" y="548" width="54" height="10.5" rx="1.5"/><text class="t" x="421" y="553.25">内部应用系统集成</text>
<rect class="b" x="451" y="548" width="51" height="10.5" rx="1.5"/><text class="t" x="476.5" y="553.25">外部应用系统对接</text>
<rect class="b" x="506" y="547.5" width="54" height="13" rx="1.5"/><text class="t2" x="533" y="550.8">智能设备、物联网</text><text class="t2" x="533" y="557.2">设备接入</text>
<rect class="sd" x="568" y="537" width="10" height="25" rx="2"/><line class="dots" x1="573" y1="543" x2="573" y2="556"/>
</g>

<g id="title">
<text x="335" y="590" font-size="15.5" fill="#111" text-anchor="middle" dominant-baseline="central">公立医院运营管理信息化功能框架图</text>
<rect x="444.5" y="582.5" width="16" height="16" fill="none" stroke="#1f3864" stroke-width=".7"/>
</g>
</svg>
